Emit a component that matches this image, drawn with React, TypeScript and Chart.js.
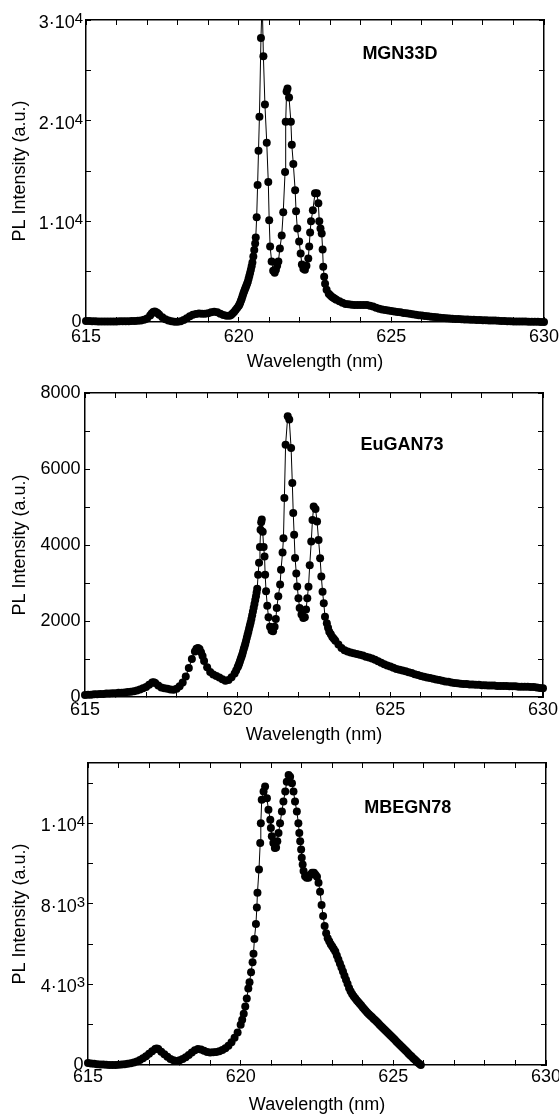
import React, { useEffect, useRef } from "react";
import { Chart, registerables } from "chart.js";

Chart.register(...registerables);

// ---------- data: MGN33D ----------
const wl1 = [
  615.0, 615.1, 615.2, 615.3, 615.4, 615.5, 615.6, 615.7, 615.8, 615.9,
  616.0, 616.1, 616.2, 616.3, 616.4, 616.5, 616.6, 616.7, 616.8, 616.9,
  617.0, 617.1, 617.15, 617.2, 617.25, 617.3, 617.35, 617.4, 617.5, 617.6,
  617.7, 617.8, 617.9, 618.0, 618.1, 618.2, 618.3, 618.4, 618.5, 618.6,
  618.7, 618.8, 618.9, 619.0, 619.1, 619.2, 619.3, 619.4, 619.5, 619.6,
  619.7, 619.75, 619.8, 619.85, 619.9, 619.95, 620.0, 620.025, 620.05, 620.075,
  620.1, 620.125, 620.15, 620.175, 620.2, 620.225, 620.25, 620.275, 620.3, 620.325,
  620.35, 620.375, 620.4, 620.425, 620.45, 620.48, 620.51, 620.54, 620.56, 620.59,
  620.62, 620.65, 620.68, 620.73, 620.77, 620.81, 620.86, 620.92, 620.97, 621.0,
  621.03, 621.08, 621.13, 621.18, 621.22, 621.26, 621.3, 621.35, 621.41, 621.46,
  621.52, 621.54, 621.57, 621.6, 621.65, 621.71, 621.74, 621.79, 621.85, 621.88,
  621.92, 621.98, 622.03, 622.07, 622.12, 622.17, 622.22, 622.28, 622.31, 622.34,
  622.37, 622.43, 622.5, 622.56, 622.61, 622.64, 622.68, 622.72, 622.75, 622.77,
  622.8, 622.83, 622.88, 622.95, 623.0, 623.05, 623.1, 623.15, 623.2, 623.3,
  623.4, 623.5, 623.6, 623.7, 623.8, 623.9, 624.0, 624.1, 624.2, 624.3,
  624.4, 624.5, 624.6, 624.7, 624.8, 624.9, 625.0, 625.1, 625.2, 625.3,
  625.4, 625.5, 625.6, 625.7, 625.8, 625.9, 626.0, 626.1, 626.2, 626.3,
  626.4, 626.5, 626.6, 626.7, 626.8, 626.9, 627.0, 627.1, 627.2, 627.3,
  627.4, 627.5, 627.6, 627.7, 627.8, 627.9, 628.0, 628.1, 628.2, 628.3,
  628.4, 628.5, 628.6, 628.7, 628.8, 628.9, 629.0, 629.1, 629.2, 629.3,
  629.4, 629.5, 629.6, 629.7, 629.8, 629.9, 630.0,
];
const pl1 = [
  100, 90, 80, 70, 60, 60, 50, 50, 50, 60,
  60, 70, 70, 80, 80, 90, 100, 120, 150, 220,
  350, 650, 850, 1000, 1050, 980, 860, 720, 480, 280,
  150, 70, 30, 30, 80, 200, 380, 580, 720, 800,
  840, 830, 810, 870, 980, 1030, 960, 830, 700, 620,
  620, 700, 850, 1000, 1200, 1400, 1600, 1750, 1900, 2100,
  2300, 2550, 2800, 3000, 3200, 3400, 3600, 3800, 4000, 4300,
  4600, 4900, 5200, 5550, 5900, 6500, 7150, 7800, 8400, 10400,
  13600, 17000, 20400, 28200, 32000, 26400, 21600, 17800, 13900, 10100,
  7500, 6000, 5100, 4900, 5200, 5600, 6000, 7300, 8600, 10900,
  14900, 19900, 22900, 23200, 22300, 19900, 17600, 15700, 13100, 11000,
  9300, 8000, 6800, 5700, 5300, 5200, 5600, 6300, 7500, 8900,
  10000, 11100, 12800, 12800, 11800, 10000, 9300, 8800, 7200, 5500,
  4500, 3800, 3200, 2800, 2650, 2520, 2400, 2300, 2200, 2050,
  1900, 1800, 1760, 1720, 1700, 1690, 1690, 1690, 1680, 1620,
  1530, 1420, 1320, 1250, 1200, 1150, 1100, 1050, 1000, 960,
  900, 860, 810, 770, 720, 680, 640, 600, 560, 520,
  490, 460, 430, 400, 370, 350, 330, 310, 290, 280,
  260, 250, 230, 220, 210, 200, 180, 170, 160, 150,
  140, 120, 110, 100, 80, 70, 60, 50, 50, 40,
  40, 30, 30, 20, 20, 10, 10,
];

// ---------- data: EuGAN73 ----------
const wl2 = [
  615.0, 615.1, 615.2, 615.3, 615.4, 615.5, 615.6, 615.7, 615.8, 615.9,
  616.0, 616.1, 616.2, 616.3, 616.4, 616.5, 616.6, 616.7, 616.8, 616.9,
  617.0, 617.1, 617.2, 617.25, 617.3, 617.4, 617.5, 617.6, 617.7, 617.8,
  617.9, 618.0, 618.1, 618.2, 618.3, 618.4, 618.5, 618.6, 618.65, 618.7,
  618.75, 618.8, 618.85, 618.9, 619.0, 619.1, 619.2, 619.3, 619.4, 619.5,
  619.6, 619.7, 619.8, 619.9, 619.95, 620.0, 620.025, 620.05, 620.075, 620.1,
  620.125, 620.15, 620.175, 620.2, 620.225, 620.25, 620.275, 620.3, 620.325, 620.35,
  620.375, 620.4, 620.425, 620.45, 620.475, 620.5, 620.525, 620.55, 620.575, 620.6,
  620.62, 620.64, 620.67, 620.7, 620.73, 620.75, 620.77, 620.79, 620.82, 620.85,
  620.88, 620.9, 620.93, 620.97, 621.01, 621.06, 621.11, 621.16, 621.21, 621.25,
  621.28, 621.33, 621.39, 621.42, 621.47, 621.5, 621.53, 621.57, 621.64, 621.69,
  621.75, 621.79, 621.82, 621.85, 621.88, 621.92, 621.95, 621.99, 622.03, 622.09,
  622.15, 622.2, 622.24, 622.28, 622.32, 622.36, 622.41, 622.45, 622.49, 622.55,
  622.6, 622.65, 622.7, 622.74, 622.78, 622.82, 622.86, 622.92, 622.96, 623.0,
  623.05, 623.1, 623.15, 623.2, 623.3, 623.4, 623.5, 623.6, 623.7, 623.8,
  623.9, 624.0, 624.1, 624.2, 624.3, 624.4, 624.5, 624.6, 624.7, 624.8,
  624.9, 625.0, 625.1, 625.2, 625.3, 625.4, 625.5, 625.6, 625.7, 625.8,
  625.9, 626.0, 626.1, 626.2, 626.3, 626.4, 626.5, 626.6, 626.7, 626.8,
  626.9, 627.0, 627.1, 627.2, 627.3, 627.4, 627.5, 627.6, 627.7, 627.8,
  627.9, 628.0, 628.1, 628.2, 628.3, 628.4, 628.5, 628.6, 628.7, 628.8,
  628.9, 629.0, 629.1, 629.2, 629.3, 629.4, 629.5, 629.6, 629.7, 629.8,
  629.9, 630.0,
];
const pl2 = [
  50, 60, 60, 70, 70, 80, 80, 90, 90, 100,
  100, 110, 110, 120, 130, 140, 150, 170, 200, 230,
  260, 320, 380, 390, 370, 300, 250, 230, 220, 200,
  190, 220, 280, 380, 540, 760, 1000, 1200, 1270, 1290,
  1260, 1180, 1080, 950, 780, 660, 590, 550, 510, 470,
  430, 450, 520, 620, 700, 780, 830, 880, 940, 1000,
  1060, 1120, 1190, 1260, 1330, 1400, 1480, 1560, 1640, 1720,
  1800, 1880, 1960, 2050, 2150, 2250, 2350, 2450, 2550, 2650,
  2750, 2850, 3220, 3530, 3950, 4400, 4600, 4670, 4350, 3950,
  3700, 3220, 2780, 2400, 2100, 1850, 1750, 1730, 1850, 2050,
  2340, 2650, 2960, 3350, 3800, 4180, 5240, 6640, 7390, 7300,
  6550, 5630, 4840, 4270, 3660, 3250, 2910, 2600, 2340, 2170,
  2080, 2100, 2300, 2600, 2900, 3470, 4090, 4660, 5010, 4950,
  4620, 4130, 3650, 3170, 2770, 2470, 2110, 1940, 1820, 1720,
  1650, 1580, 1530, 1480, 1380, 1290, 1230, 1200, 1170, 1150,
  1130, 1110, 1090, 1060, 1040, 1010, 980, 940, 900, 860,
  830, 800, 770, 740, 720, 700, 680, 650, 630, 600,
  580, 550, 530, 510, 500, 480, 460, 450, 430, 410,
  400, 380, 370, 360, 350, 340, 340, 330, 330, 320,
  320, 310, 310, 300, 300, 300, 290, 290, 290, 290,
  280, 280, 280, 270, 270, 270, 270, 260, 260, 250,
  240, 230,
];

// ---------- data: MBEGN78 ----------
const wl3 = [
  615.0, 615.1, 615.2, 615.3, 615.4, 615.5, 615.6, 615.7, 615.8, 615.9,
  616.0, 616.1, 616.2, 616.3, 616.4, 616.5, 616.6, 616.7, 616.8, 616.9,
  617.0, 617.1, 617.2, 617.25, 617.3, 617.4, 617.5, 617.6, 617.7, 617.8,
  617.9, 618.0, 618.1, 618.2, 618.3, 618.4, 618.5, 618.6, 618.7, 618.8,
  618.9, 619.0, 619.1, 619.2, 619.3, 619.4, 619.5, 619.6, 619.7, 619.8,
  619.9, 620.0, 620.05, 620.1, 620.15, 620.2, 620.25, 620.29, 620.34, 620.39,
  620.42, 620.45, 620.5, 620.53, 620.55, 620.6, 620.64, 620.66, 620.69, 620.75,
  620.8, 620.86, 620.91, 620.97, 620.99, 621.02, 621.07, 621.12, 621.16, 621.2,
  621.24, 621.29, 621.35, 621.4, 621.46, 621.51, 621.57, 621.62, 621.68, 621.73,
  621.78, 621.84, 621.89, 621.92, 621.95, 621.98, 622.0, 622.03, 622.06, 622.11,
  622.16, 622.22, 622.28, 622.34, 622.4, 622.45, 622.5, 622.55, 622.6, 622.65,
  622.7, 622.75, 622.8, 622.85, 622.9, 622.95, 623.0, 623.05, 623.1, 623.15,
  623.2, 623.25, 623.3, 623.35, 623.4, 623.45, 623.5, 623.55, 623.6, 623.65,
  623.7, 623.75, 623.8, 623.85, 623.9, 623.95, 624.0, 624.05, 624.1, 624.15,
  624.2, 624.25, 624.3, 624.35, 624.4, 624.45, 624.5, 624.55, 624.6, 624.65,
  624.7, 624.75, 624.8, 624.85, 624.9, 624.95, 625.0, 625.05, 625.1, 625.15,
  625.2, 625.25, 625.3, 625.35, 625.4, 625.45, 625.5, 625.55, 625.6, 625.65,
  625.7, 625.75, 625.8, 625.85, 625.9,
];
const pl3 = [
  100, 80, 60, 40, 30, 20, 10, 0, 0, 0,
  10, 20, 40, 60, 90, 130, 180, 250, 340, 440,
  560, 680, 790, 820, 790, 660, 530, 410, 300, 230,
  200, 230, 300, 390, 500, 620, 730, 790, 770, 710,
  650, 620, 630, 650, 680, 740, 830, 960, 1130, 1350,
  1620, 2000, 2250, 2550, 2900, 3300, 3800, 4110, 4610, 5100,
  5520, 6260, 7000, 7820, 8560, 9710, 11030, 12010, 13170, 13580,
  13830, 13250, 12680, 12180, 11770, 11360, 11030, 10780, 10800, 11110,
  11520, 12010, 12590, 13090, 13580, 14070, 14400, 14320, 13990, 13580,
  13090, 12590, 12010, 11520, 11110, 10700, 10290, 9960, 9630, 9380,
  9300, 9300, 9450, 9550, 9550, 9450, 9350, 9050, 8600, 7950,
  7400, 6900, 6550, 6300, 6150, 6000, 5880, 5760, 5640, 5440,
  5240, 5040, 4840, 4640, 4430, 4230, 4030, 3830, 3660, 3530,
  3420, 3320, 3220, 3130, 3040, 2950, 2860, 2770, 2680, 2600,
  2520, 2450, 2380, 2300, 2230, 2160, 2080, 2000, 1930, 1850,
  1780, 1700, 1630, 1550, 1480, 1400, 1330, 1250, 1170, 1090,
  1020, 940, 870, 790, 720, 640, 560, 490, 420, 340,
  270, 200, 130, 60, 0,
];

// ---------- axis ticks ----------
const xMin = 615;
const xMax = 630;
const xTickValues = [615, 616, 617, 618, 619, 620, 621, 622, 623, 624, 625, 626, 627, 628, 629, 630];
const xLabelValues = [615, 620, 625, 630];

const yTicks1 = [0, 5000, 10000, 15000, 20000, 25000, 30000];
const yLabelValues1 = [0, 10000, 20000, 30000];
const yLabels1 = ["0", "1·10^4", "2·10^4", "3·10^4"];

const yTicks2 = [0, 1000, 2000, 3000, 4000, 5000, 6000, 7000, 8000];
const yLabelValues2 = [0, 2000, 4000, 6000, 8000];
const yLabels2 = ["0", "2000", "4000", "6000", "8000"];

const yTicks3 = [0, 2000, 4000, 6000, 8000, 10000, 12000, 14000];
const yLabelValues3 = [0, 4000, 8000, 12000];
const yLabels3 = ["0", "4·10^3", "8·10^3", "1·10^4"];

const sampleNames = ["MGN33D", "EuGAN73", "MBEGN78"];
const xTitle = "Wavelength (nm)";
const yTitle = "PL Intensity (a.u.)";

const FONT = "'Liberation Sans', Arial, Helvetica, sans-serif";

// sample name drawn inside the plot, positioned in data coordinates
const labelPlugin = {
  id: "sampleLabel",
  afterDatasetsDraw(chart: any, _args: any, opts: any) {
    if (!opts || !opts.text) return;
    const { ctx, scales } = chart;
    ctx.save();
    ctx.font = `bold 18px ${FONT}`;
    ctx.fillStyle = "#000";
    ctx.textAlign = "center";
    ctx.textBaseline = "alphabetic";
    ctx.fillText(opts.text, scales.x.getPixelForValue(opts.x), scales.y.getPixelForValue(opts.y));
    ctx.restore();
  },
};

// y tick labels with a raised exponent ("3·10^4"), placed by the y scale
const expLabelPlugin = {
  id: "expLabels",
  afterDraw(chart: any, _args: any, opts: any) {
    if (!opts || !opts.items) return;
    const { ctx } = chart;
    const s = chart.scales.y;
    ctx.save();
    ctx.fillStyle = "#000";
    ctx.textAlign = "right";
    ctx.textBaseline = "alphabetic";
    for (const it of opts.items as { value: number; label: string }[]) {
      const [base, exp] = it.label.split("^");
      const y = s.getPixelForValue(it.value);
      const right = s.right - 3;
      ctx.font = `15px ${FONT}`;
      const ew = ctx.measureText(exp).width;
      ctx.fillText(exp, right, y + 3);
      ctx.font = `18px ${FONT}`;
      ctx.fillText(base, right - ew, y + 8);
    }
    ctx.restore();
  },
};

type Panel = {
  top: number;
  height: number;
  plotLeft: number;
  plotRight: number;
  plotTop: number;
  plotBottom: number;
  yMax: number;
  yTicks: number[];
  yLabelValues: number[];
  yLabels: string[];
  xTickPad: number;
  xTitlePad: number;
  wl: number[];
  pl: number[];
  name: string;
  labelX: number;
  labelY: number;
};

const W = 559;

const panels: Panel[] = [
  {
    top: 0, height: 372, plotLeft: 86, plotRight: 544, plotTop: 20, plotBottom: 322,
    yMax: 30000, yTicks: yTicks1, yLabelValues: yLabelValues1, yLabels: yLabels1,
    xTickPad: 9.2, xTitlePad: 1,
    wl: wl1, pl: pl1, name: sampleNames[0], labelX: 625.28, labelY: 26090,
  },
  {
    top: 372, height: 372, plotLeft: 85, plotRight: 543, plotTop: 21, plotBottom: 325,
    yMax: 8000, yTicks: yTicks2, yLabelValues: yLabelValues2, yLabels: yLabels2,
    xTickPad: 7.7, xTitlePad: -0.5,
    wl: wl2, pl: pl2, name: sampleNames[1], labelX: 625.38, labelY: 6500,
  },
  {
    top: 744, height: 373, plotLeft: 88, plotRight: 546, plotTop: 19, plotBottom: 321,
    yMax: 15000, yTicks: yTicks3, yLabelValues: yLabelValues3, yLabels: yLabels3,
    xTickPad: 6.2, xTitlePad: 3,
    wl: wl3, pl: pl3, name: sampleNames[2], labelX: 625.47, labelY: 12510,
  },
];

const TICK_LEN = -5;

function axisCommon() {
  return {
    border: { display: true, color: "#000", width: 1.5 },
    grid: {
      drawOnChartArea: false,
      drawTicks: true,
      tickLength: TICK_LEN,
      tickColor: "#000",
      tickWidth: 1,
      color: "#000",
    },
  };
}

function PanelChart({ p }: { p: Panel }) {
  const ref = useRef<HTMLCanvasElement | null>(null);
  useEffect(() => {
    if (!ref.current) return;
    const data = p.wl.map((x, i) => ({ x, y: p.pl[i] }));
    const fixX = (h: number) => (s: any) => {
      s.height = h;
      s.paddingLeft = 0;
      s.paddingRight = 0;
    };
    const fixY = (w: number) => (s: any) => {
      s.width = w;
      s.paddingTop = 0;
      s.paddingBottom = 0;
    };
    const setTicks = (vals: number[]) => (s: any) => {
      s.ticks = vals.map((v) => ({ value: v }));
    };
    const expItems = p.yLabelValues
      .map((v, i) => ({ value: v, label: p.yLabels[i] }))
      .filter((it) => it.label.includes("^"));
    const chart = new Chart(ref.current, {
      type: "line",
      data: {
        datasets: [
          {
            data,
            borderColor: "#000",
            borderWidth: 1,
            pointRadius: 4,
            pointBackgroundColor: "#000",
            pointBorderColor: "#000",
            pointBorderWidth: 0,
            pointHoverRadius: 4,
            fill: false,
            tension: 0,
            clip: { left: 6, right: 6, top: 0, bottom: 6 } as any,
          },
        ],
      },
      options: {
        responsive: false,
        animation: false,
        devicePixelRatio: 1,
        events: [],
        layout: {
          padding: { left: 0, top: p.plotTop, right: W - p.plotRight, bottom: 0 },
        },
        font: { family: FONT, size: 18 } as any,
        plugins: {
          legend: { display: false },
          tooltip: { enabled: false },
          sampleLabel: { text: p.name, x: p.labelX, y: p.labelY },
          expLabels: { items: expItems },
        } as any,
        scales: {
          x: {
            type: "linear",
            position: "bottom",
            min: xMin,
            max: xMax,
            ...axisCommon(),
            afterBuildTicks: setTicks(xTickValues),
            ticks: {
              autoSkip: false,
              maxRotation: 0,
              minRotation: 0,
              color: "#000",
              padding: p.xTickPad,
              font: { family: FONT, size: 18 },
              callback: (v: any) => {
                const n = Number(v);
                return xLabelValues.some((t) => Math.abs(t - n) < 1e-6) ? String(Math.round(n)) : "";
              },
            },
            title: {
              display: true,
              text: xTitle,
              color: "#000",
              font: { family: FONT, size: 18, lineHeight: 1 },
              padding: { top: 0, bottom: p.xTitlePad },
            },
            afterFit: fixX(p.height - p.plotBottom),
          },
          x2: {
            type: "linear",
            position: "top",
            min: xMin,
            max: xMax,
            ...axisCommon(),
            afterBuildTicks: setTicks(xTickValues),
            ticks: { display: false, autoSkip: false },
            afterFit: fixX(0),
          },
          y: {
            type: "linear",
            position: "left",
            min: 0,
            max: p.yMax,
            ...axisCommon(),
            afterBuildTicks: setTicks(p.yTicks),
            ticks: {
              autoSkip: false,
              color: "#000",
              padding: 9.5,
              font: { family: FONT, size: 18 },
              callback: (v: any) => {
                const n = Number(v);
                const i = p.yLabelValues.findIndex((t) => Math.abs(t - n) < 1e-6);
                if (i < 0) return "";
                const lab = p.yLabels[i];
                return lab.includes("^") ? "" : lab;
              },
            },
            title: {
              display: true,
              text: yTitle,
              color: "#000",
              font: { family: FONT, size: 18, lineHeight: 1.2 },
              padding: { top: 9.7, bottom: 0 },
            },
            afterFit: fixY(p.plotLeft),
          },
          y2: {
            type: "linear",
            position: "right",
            min: 0,
            max: p.yMax,
            ...axisCommon(),
            afterBuildTicks: setTicks(p.yTicks),
            ticks: { display: false, autoSkip: false },
            afterFit: fixY(0),
          },
        },
      } as any,
      plugins: [labelPlugin as any, expLabelPlugin as any],
    });
    return () => chart.destroy();
  }, [p]);
  return (
    <canvas
      ref={ref}
      width={W}
      height={p.height}
      style={{ position: "absolute", left: 0, top: p.top, width: W, height: p.height, display: "block" }}
    />
  );
}

export default function App() {
  return (
    <div style={{ position: "absolute", left: 0, top: 0, width: W, height: 1117, background: "#fff" }}>
      {panels.map((p, i) => (
        <PanelChart key={i} p={p} />
      ))}
    </div>
  );
}
